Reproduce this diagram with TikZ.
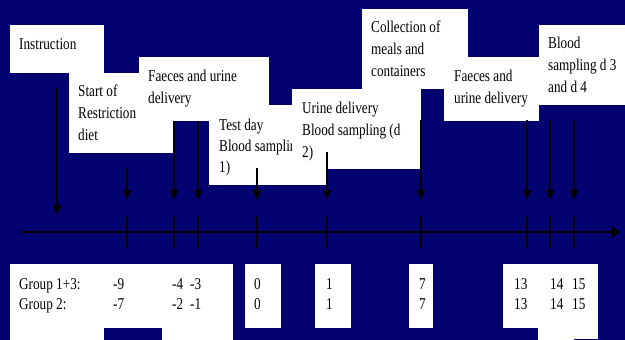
\documentclass[tikz,border=0pt]{standalone}
\usepackage{fontspec}
\setmainfont{Liberation Serif}[FakeStretch=0.8]
\usetikzlibrary{arrows.meta}
\definecolor{navy}{RGB}{2,2,112}
\tikzset{
  lbl/.style={anchor=base west, inner sep=0pt, align=left, font=\fontsize{16.5}{22}\selectfont},
  numlbl/.style={anchor=base west, inner sep=0pt, align=left, font=\fontsize{16.5}{20}\selectfont},
  evarrow/.style={line width=2pt, -{Triangle[length=10pt,width=8pt]}},
  tickline/.style={line width=1.6pt},
  axisline/.style={line width=2.6pt, -{Triangle[length=8pt,width=11pt]}},
}
\begin{document}
\begin{tikzpicture}[x=1pt,y=-1pt]
\fill[navy] (0,0) rectangle (625,340);
\useasboundingbox (0,0) rectangle (625,340);
% top boxes (base anchor = baseline of last line)
\fill[white] (10,25) rectangle (104,73);
\node[lbl] (tInstr) at (19,49.5) {Instruction};
\fill[white] (69,73) rectangle (174,153);
\node[lbl] (tStart) at (78,140.5) {Start of\\Restriction\\diet};
\fill[white] (139,57) rectangle (269,121);
\node[lbl] (tFaeA) at (148,103.5) {Faeces and urine\\delivery};
\fill[white] (209,105) rectangle (328,185);
\begin{scope}
  \clip (209,105) rectangle (292,185);
  \node[lbl, font=\fontsize{16.5}{21}\selectfont] (tTest) at (219,172) {Test day\\Blood sampling (d\\1)};
\end{scope}
\fill[white] (292,89) rectangle (421,169);
\node[lbl] (tUrine) at (302,157.5) {Urine delivery\\Blood sampling (d\\2)};
\fill[white] (362,9) rectangle (468,89);
\node[lbl] (tColl) at (371,76.5) {Collection of\\meals and\\containers};
\fill[white] (444,57) rectangle (539,121);
\node[lbl] (tFaeB) at (454,103.5) {Faeces and\\urine delivery};
\fill[white] (539,25) rectangle (625,105);
\node[lbl] (tBlood) at (548,92.5) {Blood\\sampling d 3\\and d 4};
% bottom boxes
\fill[white] (10,264) rectangle (233,328);
\fill[white] (10,264) rectangle (104,340);
\fill[white] (162,264) rectangle (233,340);
\fill[white] (245,264) rectangle (281,328);
\fill[white] (315,264) rectangle (351,328);
\fill[white] (409,264) rectangle (433,328);
\fill[white] (503,264) rectangle (598,328);
\fill[white] (538,264) rectangle (574,340);
\fill[white] (574,264) rectangle (598,339);
\node[numlbl] (tGroup) at (19,309.5) {Group 1+3:\\Group 2:};
\node[numlbl] (nA) at (113,309.5) {-9\\-7};
\node[numlbl] (nB) at (172,309.5) {-4\\-2};
\node[numlbl] (nC) at (190,309.5) {-3\\-1};
\node[numlbl] (nD) at (254,309.5) {0\\0};
\node[numlbl] (nE) at (326,309.5) {1\\1};
\node[numlbl] (nF) at (419,309.5) {7\\7};
\node[numlbl] (nG) at (514,309.5) {13\\13};
\node[numlbl] (nH) at (550,309.5) {14\\14};
\node[numlbl] (nI) at (572,309.5) {15\\15};
% axis
\coordinate (axS) at (21,232);
\coordinate (axE) at (620,232);
\draw[axisline] (axS) -- (axE);
\foreach \x [count=\i] in {127,174,198,257,327,421,527,550,574}{
  \coordinate (tk\i a) at (\x,216);
  \coordinate (tk\i b) at (\x,248);
  \draw[tickline] (tk\i a) -- (tk\i b);
}
% event arrows
\coordinate (arIs) at (57,88);  \coordinate (arIe) at (57,215);
\draw[evarrow] (arIs) -- (arIe);
\foreach \x/\ys [count=\i] in {127/168,174/121,198/121,257/168,327/152,421/120,527/120,550/120,574/120}{
  \coordinate (ar\i s) at (\x,\ys);
  \coordinate (ar\i e) at (\x,200);
  \draw[evarrow] (ar\i s) -- (ar\i e);
}
\end{tikzpicture}
\end{document}
